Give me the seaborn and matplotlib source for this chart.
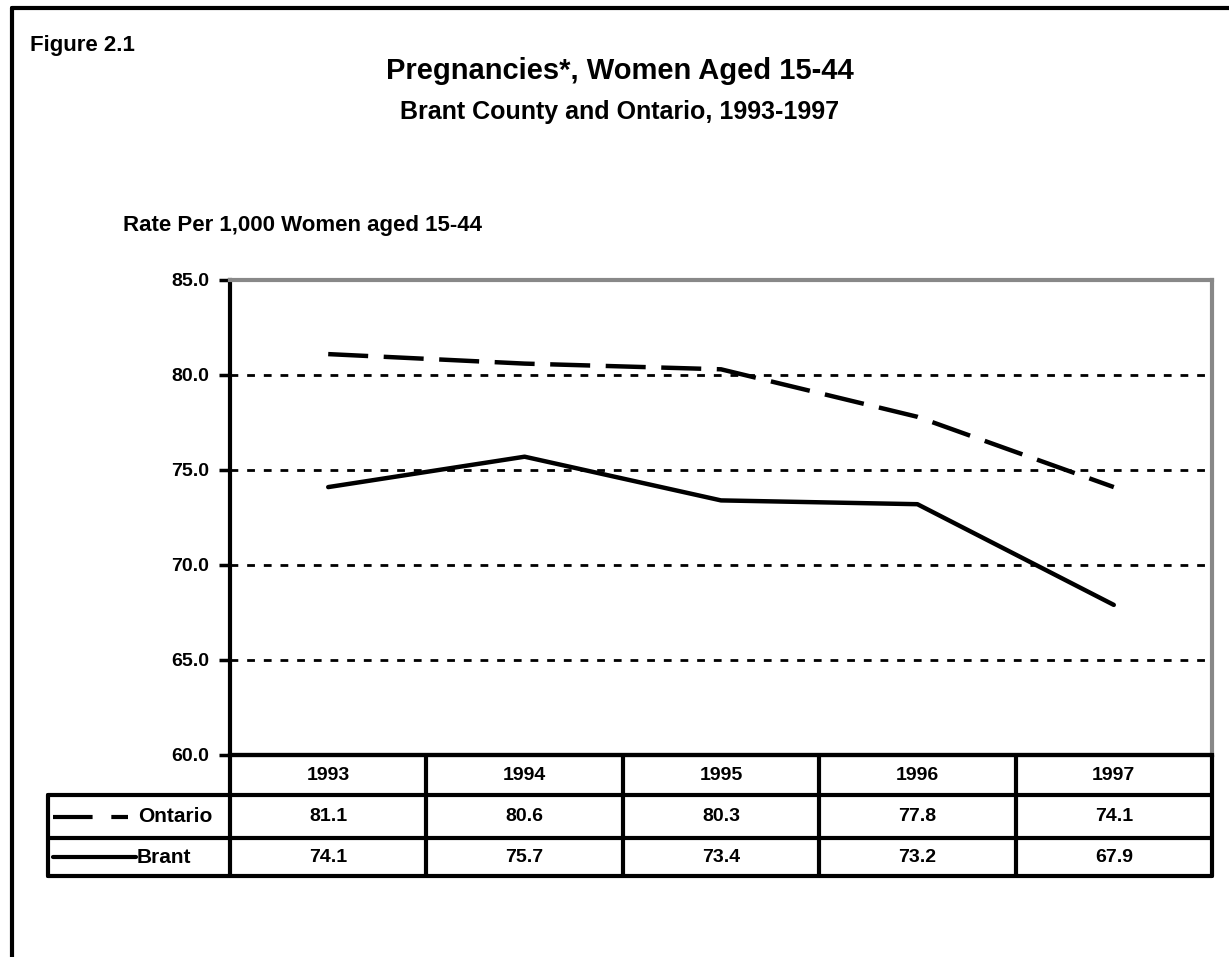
import pandas as pd
import matplotlib.pyplot as plt
import seaborn as sns

years = [1993, 1994, 1995, 1996, 1997]
ontario = [81.1, 80.6, 80.3, 77.8, 74.1]
brant = [74.1, 75.7, 73.4, 73.2, 67.9]
series_names = ['Ontario', 'Brant']
y_ticks = [60.0, 65.0, 70.0, 75.0, 80.0, 85.0]

df = pd.DataFrame({
    'year': years * 2,
    'rate': ontario + brant,
    'region': ['Ontario'] * len(years) + ['Brant'] * len(years),
})

sns.set_theme(style='white')
plt.rcParams['font.family'] = ['Liberation Sans', 'DejaVu Sans']
plt.rcParams['font.weight'] = 'bold'
plt.rcParams['text.color'] = 'black'
plt.rcParams['ytick.color'] = 'black'

W, H = 1229, 957
fig = plt.figure(figsize=(W / 100, H / 100), dpi=100)


def fx(px):
    return px / W


def fy(py):
    return 1 - py / H


# main plot area
x0, x1, ytop, ybot = 230, 1212, 280, 755
ax = fig.add_axes([fx(x0), fy(ybot), fx(x1 - x0), (ybot - ytop) / H])
dash_map = {'Ontario': (9, 3.5), 'Brant': ''}
sns.lineplot(data=df, x='year', y='rate', style='region', style_order=series_names,
             dashes=dash_map, color='black', linewidth=3.2, ax=ax, legend=False)
ax.set_xlim(years[0] - 0.5, years[-1] + 0.5)
ax.set_ylim(y_ticks[0], y_ticks[-1])
ax.set_yticks(y_ticks)
ax.set_yticklabels([f'{v:.1f}' for v in y_ticks], fontsize=14, fontweight='bold')
ax.set_xticks([])
ax.set_xlabel('')
ax.set_ylabel('')
ax.tick_params(axis='y', length=8, width=2.5, color='black', pad=7, left=True)
# dotted gridlines
for v in y_ticks[1:-1]:
    ax.axhline(v, color='black', linestyle=(0, (2.8, 3.2)), linewidth=2.0, zorder=0)
ax.spines['left'].set_color('black')
ax.spines['left'].set_linewidth(3)
ax.spines['bottom'].set_color('black')
ax.spines['bottom'].set_linewidth(3)
ax.spines['top'].set_color('#888888')
ax.spines['top'].set_linewidth(3)
ax.spines['right'].set_color('#888888')
ax.spines['right'].set_linewidth(3)

# data table under the plot
tleft = 48
unit = (x1 - x0) / len(years)
tax = fig.add_axes([fx(tleft), fy(876), fx(x1 - tleft), (876 - ybot) / H])
tax.set_xlim(years[0] - 0.5 - (x0 - tleft) / unit, years[-1] + 0.5)
tax.set_ylim(0, 3)
tax.axis('off')
lw = 3
xl = years[0] - 0.5 - (x0 - tleft) / unit
xa = years[0] - 0.5
xr = years[-1] + 0.5
# row boundaries (0..3, top=3)
row_y = [3, 3 - 40 / 40.3, 3 - 83 / 40.3, 0]
tax.plot([xa, xr], [3, 3], color='black', lw=lw, clip_on=False)
for yy in row_y[1:]:
    tax.plot([xl, xr], [yy, yy], color='black', lw=lw, clip_on=False)
for i in range(len(years) + 1):
    tax.plot([xa + i, xa + i], [0, 3], color='black', lw=lw, clip_on=False)
tax.plot([xl, xl], [0, row_y[1]], color='black', lw=lw, clip_on=False)

rows = [[str(y) for y in years],
        [f'{v:.1f}' for v in ontario],
        [f'{v:.1f}' for v in brant]]
for r, vals in enumerate(rows):
    yc = (row_y[r] + row_y[r + 1]) / 2
    for i, t in enumerate(vals):
        tax.text(years[i], yc, t, ha='center', va='center', fontsize=14, fontweight='bold')

# legend keys in table
yc1 = (row_y[1] + row_y[2]) / 2
yc2 = (row_y[2] + row_y[3]) / 2
px2x = 1 / unit
tax.plot([xl + 5 * px2x, xl + 80 * px2x], [yc1, yc1], color='black', lw=3,
         linestyle=(0, (9.5, 4.5)), clip_on=False)
tax.text(xl + 90 * px2x, yc1, series_names[0], ha='left', va='center', fontsize=15, fontweight='bold')
tax.plot([xl + 5 * px2x, xl + 88 * px2x], [yc2, yc2], color='black', lw=3, clip_on=False)
tax.text(xl + 89 * px2x, yc2, series_names[1], ha='left', va='center', fontsize=15, fontweight='bold')

# titles
fig.text(fx(620), fy(71), 'Pregnancies*, Women Aged 15-44', ha='center', va='center',
         fontsize=21, fontweight='bold')
fig.text(fx(620), fy(112), 'Brant County and Ontario, 1993-1997', ha='center', va='center',
         fontsize=18, fontweight='bold')
fig.text(fx(123), fy(225), 'Rate Per 1,000 Women aged 15-44', ha='left', va='center',
         fontsize=16, fontweight='bold')
fig.text(fx(30), fy(45), 'Figure 2.1', ha='left', va='center', fontsize=16, fontweight='bold')

# outer frame (left and top)
fig.add_artist(plt.Line2D([fx(12), fx(12)], [fy(8), 0], color='black', lw=3))
fig.add_artist(plt.Line2D([fx(12), 1], [fy(8), fy(8)], color='black', lw=3))

fig.savefig('out.png', dpi=100)
